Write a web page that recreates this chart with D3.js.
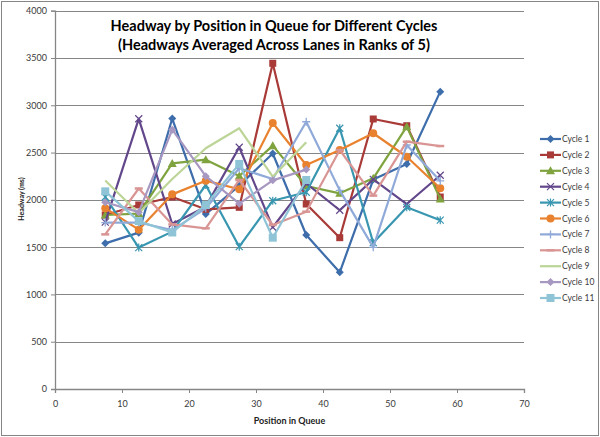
<!DOCTYPE html>
<html>
<head>
<meta charset="utf-8">
<script src="https://cdn.jsdelivr.net/npm/d3@7"></script>
<style>
  html, body { margin: 0; padding: 0; background: #fff; }
  svg { display: block; }
</style>
</head>
<body>
<svg id="chart" width="600" height="437"></svg>
<script>
// ---- data ----
const positions = [7.5, 12.5, 17.5, 22.5, 27.5, 32.5, 37.5, 42.5, 47.5, 52.5, 57.5];
const seriesNames = ["Cycle 1","Cycle 2","Cycle 3","Cycle 4","Cycle 5","Cycle 6","Cycle 7","Cycle 8","Cycle 9","Cycle 10","Cycle 11"];
const cycle1  = [1540, 1653, 2860, 1850, 2150, 2490, 1628, 1234, 2215, 2379, 3144];
const cycle2  = [1840, 1946, 2030, 1900, 1921, 3444, 1956, 1600, 2855, 2784, 2030];
const cycle3  = [1840, 1855, 2385, 2425, 2252, 2573, 2146, 2069, 2228, 2774, 2010];
const cycle4  = [1765, 2857, 1745, 1928, 2556, 1710, 2175, 1890, 2217, 1956, 2260];
const cycle5  = [2030, 1495, 1664, 2157, 1505, 1991, 2080, 2757, 1547, 1921, 1785];
const cycle6  = [1912, 1685, 2058, 2203, 2112, 2812, 2369, 2527, 2704, 2456, 2122];
const cycle7  = [1760, 1760, 1680, 1910, 2334, 2220, 2826, 2100, 1498, 2580, 2200];
const cycle8  = [1635, 2120, 1740, 1699, 2210, 1734, 1875, 2527, 2045, 2615, 2569];
const cycle9  = [2205, 1858, 2220, 2545, 2757, 2245, 2610];
const cycle10 = [1975, 1870, 2742, 2250, 1960, 2206, 2320];
const cycle11 = [2090, 1775, 1655, 1946, 2380, 1600, 2210];
const allSeries = [cycle1, cycle2, cycle3, cycle4, cycle5, cycle6, cycle7, cycle8, cycle9, cycle10, cycle11];
const colors = ["#3D6DAA","#A83A37","#7FA33F","#62478B","#3996B0","#E9822F","#8FA9D8","#D99594","#BCD597","#A798C2","#8FC4D6"];
const markers = ["diamond","square","triangle","x","star","circle","plus","dash","none","diamond","bigsquare"];
const xTicks = [0, 10, 20, 30, 40, 50, 60, 70];
const yTicks = [0, 500, 1000, 1500, 2000, 2500, 3000, 3500, 4000];
const titleLines = ["Headway by Position in Queue for Different Cycles", "(Headways Averaged Across Lanes in Ranks of 5)"];
const xTitle = "Position in Queue";
const yTitle = "Headway (ms)";

// ---- layout ----
const svg = d3.select("#chart");
const x = d3.scaleLinear().domain([0, 70]).range([55, 524]);
const y = d3.scaleLinear().domain([0, 4000]).range([389, 10.7]);
const grid = "#868686";
const textCol = "#3a3a3a";

// outer border
svg.append("rect").attr("x", 1.5).attr("y", 1.5).attr("width", 597).attr("height", 434)
  .attr("fill", "#fff").attr("stroke", grid).attr("stroke-width", 1);

// gridlines
svg.append("g").selectAll("line").data(yTicks.filter(d => d > 0)).join("line")
  .attr("x1", x(0)).attr("x2", x(70))
  .attr("y1", d => Math.round(y(d)) + 0.5).attr("y2", d => Math.round(y(d)) + 0.5)
  .attr("stroke", grid).attr("stroke-width", 1.2);

// y axis
const yAxis = svg.append("g").attr("transform", `translate(${x(0)},0)`)
  .call(d3.axisLeft(y).tickValues(yTicks).tickSize(4).tickPadding(4).tickFormat(d3.format("d")));
// x axis
const xAxis = svg.append("g").attr("transform", `translate(0,${y(0)})`)
  .call(d3.axisBottom(x).tickValues(xTicks).tickSize(4).tickPadding(8).tickFormat(d3.format("d")));
[yAxis, xAxis].forEach(g => {
  g.select(".domain").attr("stroke", grid).attr("stroke-width", 1.3);
  g.selectAll(".tick line").attr("stroke", grid);
  g.selectAll("text").attr("font-family", "Lato, 'DejaVu Sans', sans-serif").attr("font-size", 9).attr("fill", textCol);
});

// titles
svg.append("g").selectAll("text").data(titleLines).join("text")
  .attr("x", 274).attr("y", (d, i) => 31 + i * 18.5)
  .attr("text-anchor", "middle")
  .attr("font-family", "Lato, 'Open Sans', sans-serif").attr("font-weight", "bold").attr("font-size", 14.5)
  .attr("fill", "#000")
  .text(d => d);

svg.append("text").attr("x", (x(0) + x(70)) / 2).attr("y", 424)
  .attr("text-anchor", "middle")
  .attr("font-family", "Lato, 'DejaVu Sans', sans-serif").attr("font-weight", "bold").attr("font-size", 9)
  .attr("fill", "#222").text(xTitle);

svg.append("text").attr("transform", "translate(24,199) rotate(-90)")
  .attr("text-anchor", "middle")
  .attr("font-family", "Lato, 'DejaVu Sans', sans-serif").attr("font-weight", "bold").attr("font-size", 7)
  .attr("fill", "#222").text(yTitle);

// marker drawing
function drawMarker(g, type, color, cx, cy) {
  const s = 3.5;
  if (type === "diamond") {
    g.append("path").attr("d", `M${cx},${cy - 4}L${cx + 4},${cy}L${cx},${cy + 4}L${cx - 4},${cy}Z`).attr("fill", color);
  } else if (type === "square") {
    g.append("rect").attr("x", cx - 3.5).attr("y", cy - 3.5).attr("width", 7).attr("height", 7).attr("fill", color);
  } else if (type === "bigsquare") {
    g.append("rect").attr("x", cx - 4).attr("y", cy - 4).attr("width", 8).attr("height", 8).attr("fill", color);
  } else if (type === "triangle") {
    g.append("path").attr("d", `M${cx},${cy - 4.5}L${cx + 4.5},${cy + 3.5}L${cx - 4.5},${cy + 3.5}Z`).attr("fill", color);
  } else if (type === "circle") {
    g.append("circle").attr("cx", cx).attr("cy", cy).attr("r", 4).attr("fill", color);
  } else if (type === "x") {
    g.append("path").attr("d", `M${cx - s},${cy - s}L${cx + s},${cy + s}M${cx - s},${cy + s}L${cx + s},${cy - s}`)
      .attr("stroke", color).attr("stroke-width", 1.2).attr("fill", "none");
  } else if (type === "star") {
    g.append("path").attr("d", `M${cx - s},${cy - s}L${cx + s},${cy + s}M${cx - s},${cy + s}L${cx + s},${cy - s}M${cx},${cy - s - 0.5}L${cx},${cy + s + 0.5}`)
      .attr("stroke", color).attr("stroke-width", 1.2).attr("fill", "none");
  } else if (type === "plus") {
    g.append("path").attr("d", `M${cx - 4},${cy}L${cx + 4},${cy}M${cx},${cy - 4}L${cx},${cy + 4}`)
      .attr("stroke", color).attr("stroke-width", 1.3).attr("fill", "none");
  } else if (type === "dash") {
    g.append("path").attr("d", `M${cx - 4},${cy}L${cx + 4},${cy}`)
      .attr("stroke", color).attr("stroke-width", 2.5).attr("fill", "none");
  }
}

// series
const line = d3.line().x(d => x(d[0])).y(d => y(d[1]));
allSeries.forEach((vals, i) => {
  const pts = vals.map((v, j) => [positions[j], v]);
  const g = svg.append("g");
  g.append("path").datum(pts).attr("d", line)
    .attr("fill", "none").attr("stroke", colors[i]).attr("stroke-width", 2.2).attr("stroke-linejoin", "round");
  pts.forEach(p => drawMarker(g, markers[i], colors[i], x(p[0]), y(p[1])));
});

// legend
const lg = svg.append("g");
seriesNames.forEach((name, i) => {
  const ly = 139 + i * 15.9;
  const item = lg.append("g");
  item.append("line").attr("x1", 540).attr("x2", 561).attr("y1", ly).attr("y2", ly)
    .attr("stroke", colors[i]).attr("stroke-width", 2.2);
  drawMarker(item, markers[i], colors[i], 550.5, ly);
  item.append("text").attr("x", 562).attr("y", ly + 3)
    .attr("font-family", "Lato, 'DejaVu Sans', sans-serif").attr("font-size", 8.5)
    .attr("fill", textCol).text(name);
});
</script>
</body>
</html>
